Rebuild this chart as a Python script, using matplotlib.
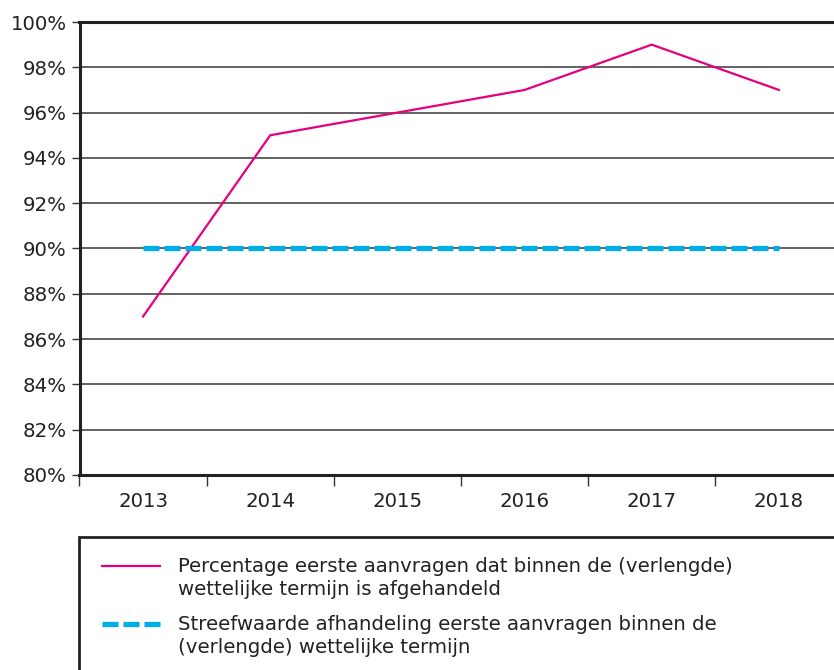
import matplotlib
matplotlib.use("Agg")
import matplotlib.pyplot as plt
from matplotlib.lines import Line2D
from matplotlib.patches import Rectangle

years = ["2013", "2014", "2015", "2016", "2017", "2018"]
percentage = [87, 95, 96, 97, 99, 97]
target = [90, 90, 90, 90, 90, 90]
yticks = [80, 82, 84, 86, 88, 90, 92, 94, 96, 98, 100]
labels = ["Percentage eerste aanvragen dat binnen de (verlengde)\nwettelijke termijn is afgehandeld",
          "Streefwaarde afhandeling eerste aanvragen binnen de\n(verlengde) wettelijke termijn"]

PINK = "#e5007d"
BLUE = "#00ade8"
TXT = "#222222"
FS = 14.2

plt.rcParams['font.family'] = ['DejaVu Sans']

W, H = 834, 670
fig = plt.figure(figsize=(W / 100, H / 100), dpi=100)
ax = fig.add_axes([79.5 / W, (H - 475) / H, 763 / W, 453 / H])

x = list(range(len(years)))
ax.plot(x, percentage, color=PINK, lw=1.6, zorder=3)
ax.plot(x, target, color=BLUE, lw=3.8, dashes=(16 / 3.8 * 0.72, 5 / 3.8 * 0.72), zorder=4,
        solid_capstyle='butt', dash_capstyle='butt')

ax.set_xlim(-0.5, len(years) - 0.5)
ax.set_ylim(80, 100)
ax.set_yticks(yticks)
ax.set_yticklabels([f"{v}%" for v in yticks], fontsize=FS, color=TXT)
ax.set_xticks(x)
ax.set_xticklabels(years, fontsize=FS, color=TXT)
ax.set_xticks([i + 0.5 for i in range(-1, len(years))], minor=True)
ax.tick_params(axis='x', which='major', length=0, pad=12)
ax.tick_params(axis='x', which='minor', length=8, width=1, color="#333333", direction='out')
ax.tick_params(axis='y', length=6, width=1, color="#333333", pad=3)

for v in yticks[1:-1]:
    ax.axhline(v, color="#555555", lw=1.3, zorder=1)

for s in ['left', 'bottom', 'top']:
    ax.spines[s].set_linewidth(2.2)
    ax.spines[s].set_color("#222222")
ax.spines['right'].set_visible(False)

# legend box
fig.add_artist(Rectangle((79 / W, -0.05), 1.0, (H - 537) / H + 0.05, transform=fig.transFigure,
                         fill=False, edgecolor="#222222", lw=2.0))
fig.add_artist(Line2D([102 / W, 160 / W], [(H - 566) / H] * 2, transform=fig.transFigure,
                      color=PINK, lw=1.6))
fig.add_artist(Line2D([102 / W, 161 / W], [(H - 624) / H] * 2, transform=fig.transFigure,
                      color=BLUE, lw=3.8, dashes=(16 / 3.8 * 0.72, 5 / 3.8 * 0.72),
                      dash_capstyle='butt'))
fig.text(178 / W, (H - 557) / H, labels[0], fontsize=FS, color=TXT, va='top',
         linespacing=1.28)
fig.text(178 / W, (H - 615) / H, labels[1], fontsize=FS, color=TXT, va='top',
         linespacing=1.28)

fig.savefig("out.png", dpi=100)
